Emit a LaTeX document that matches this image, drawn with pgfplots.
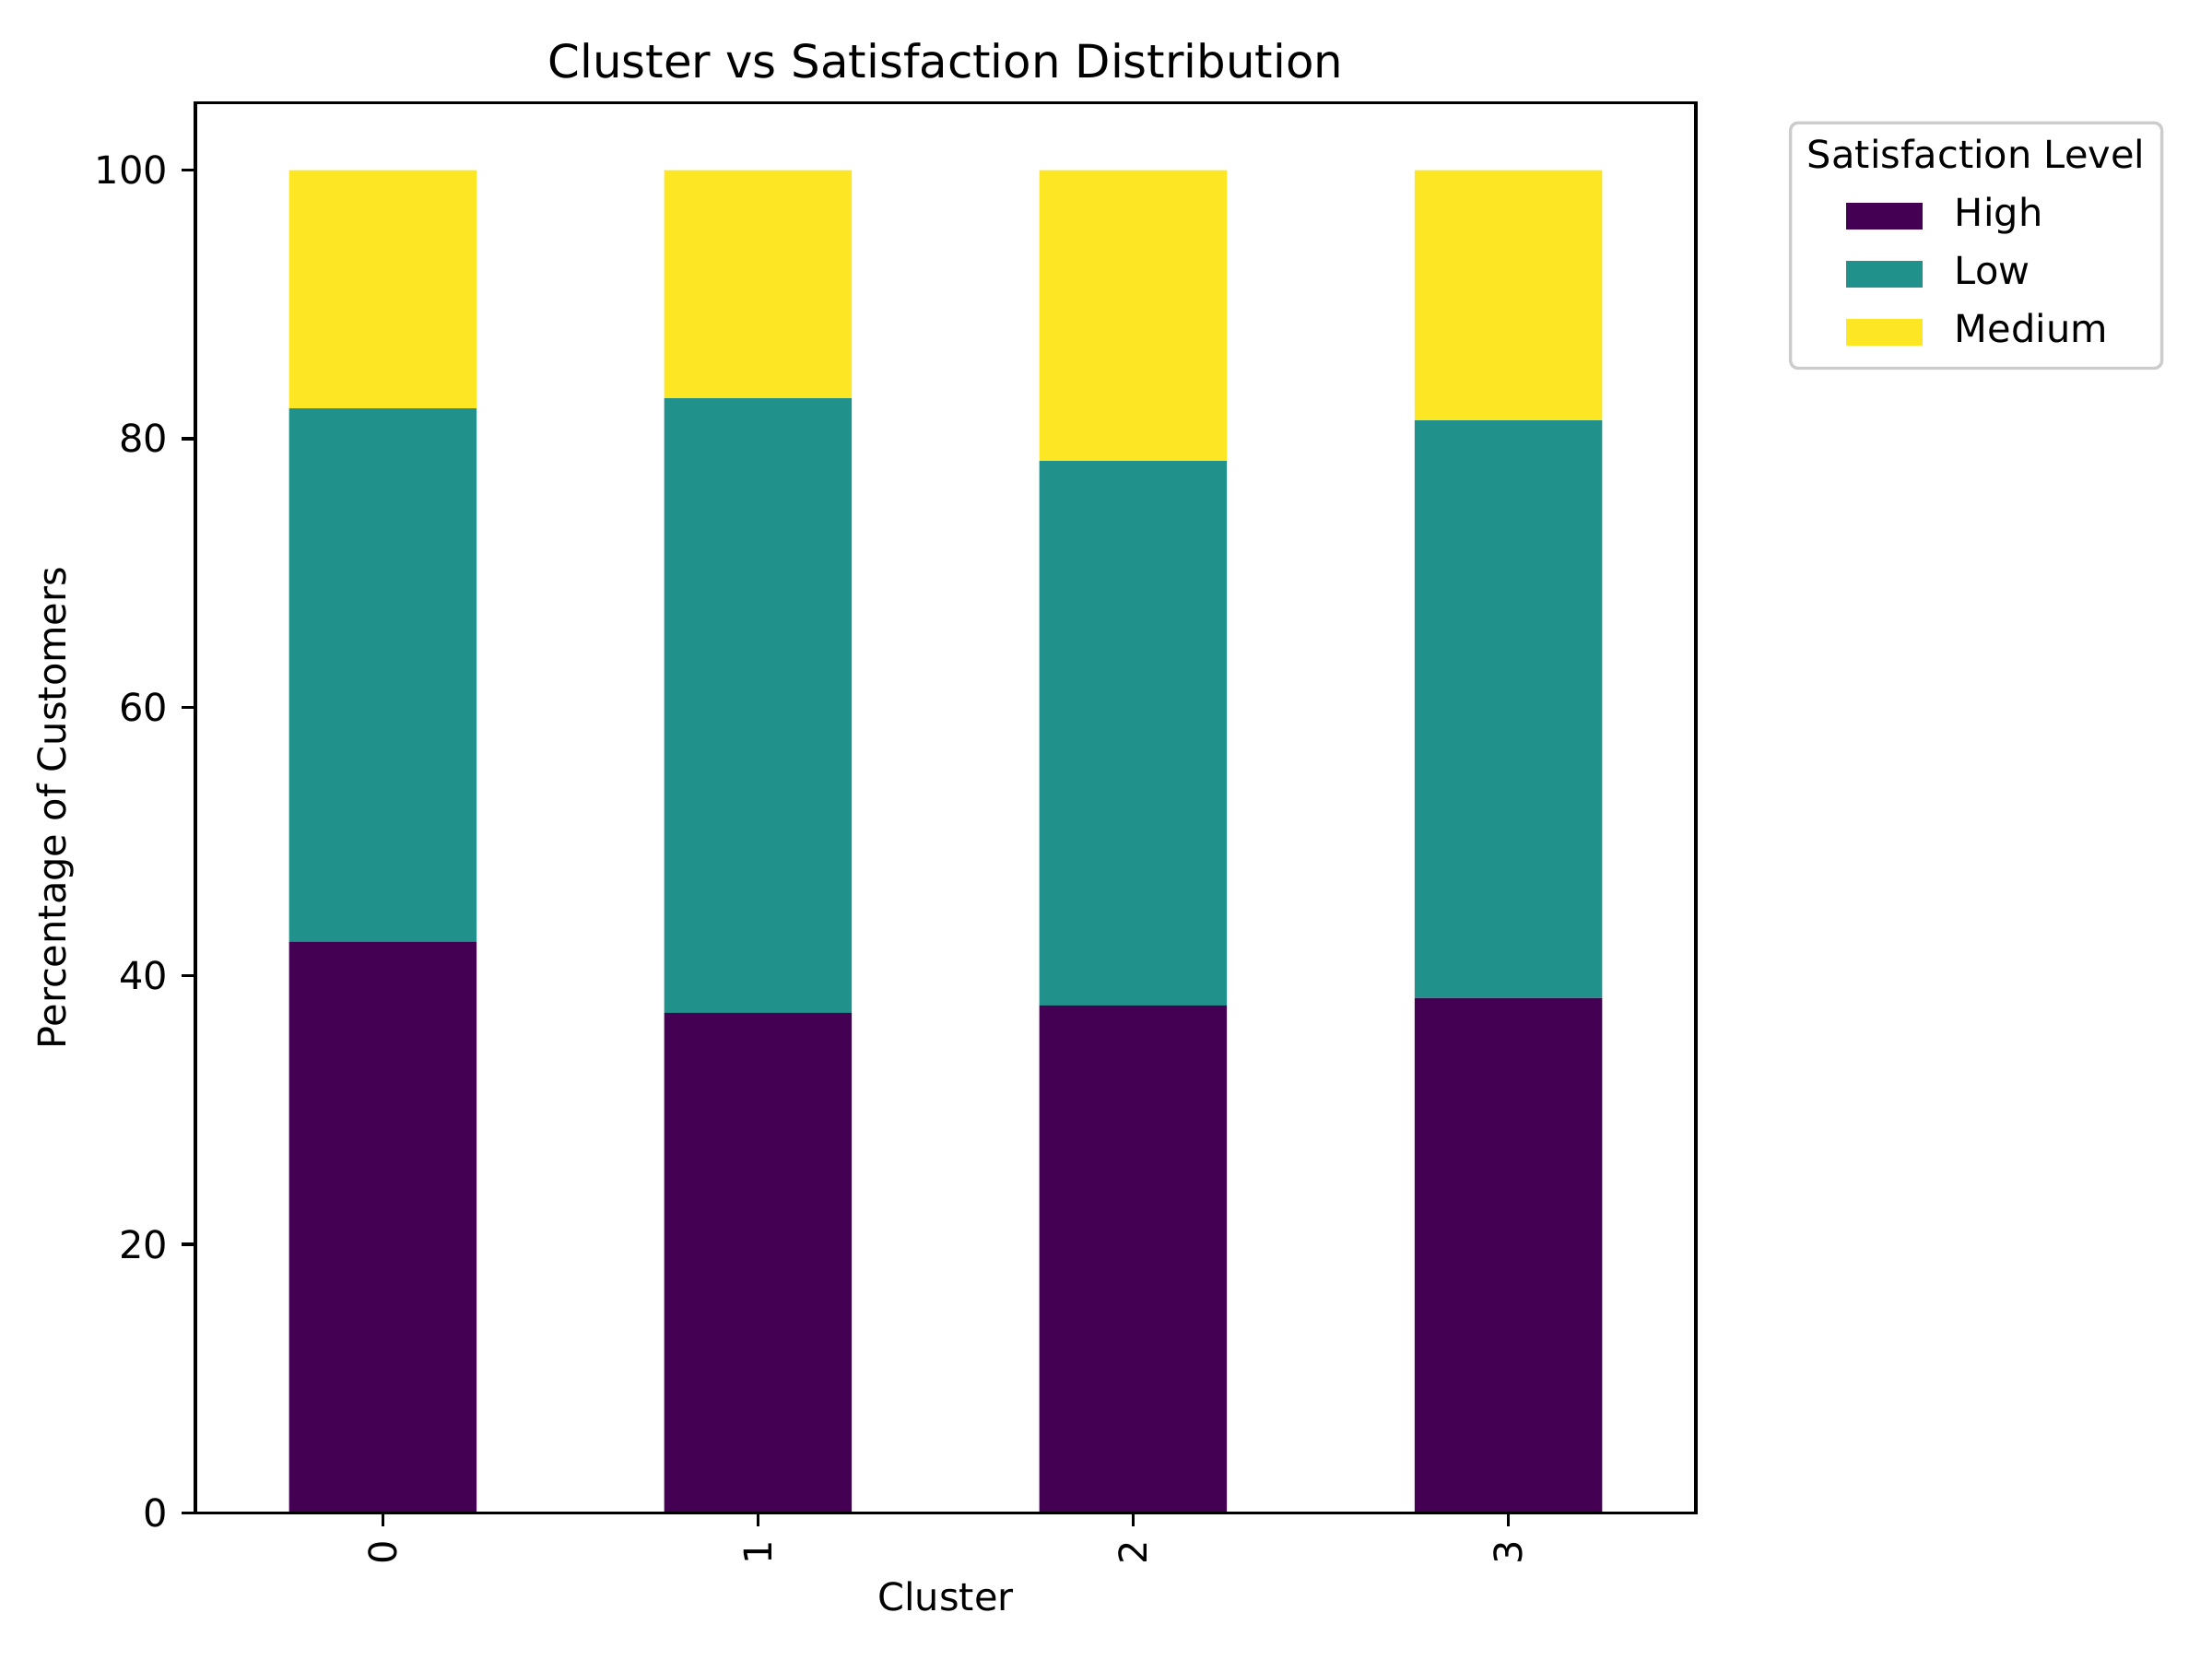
\documentclass[border=0pt]{standalone}
\usepackage{fontspec}
\setmainfont{DejaVu Sans}
\usepackage{pgfplots}
\pgfplotsset{compat=1.18}

\definecolor{vHigh}{HTML}{440154}
\definecolor{vLow}{HTML}{21918C}
\definecolor{vMed}{HTML}{FDE725}

\pgfplotsset{
  sqlegend/.style={
    legend image code/.code={\path (0bp,0bp); \fill[##1, sharp corners] (10bp,-3.5bp) rectangle (30bp,3.5bp);}
  }
}

\begin{document}
\begin{tikzpicture}
  \begin{axis}[
      scale only axis,
      width=390.72bp, height=367.10bp,
      ybar stacked, bar width=0.5,
      xmin=-0.5, xmax=3.5,
      ymin=0, ymax=105,
      xtick={0,1,2,3},
      ytick={0,20,...,100},
      tick pos=left,
      tick align=outside,
      major tick length=3.5bp,
      tick style={line width=0.8bp, black},
      axis line style={line width=0.8bp},
      axis on top,
      font=\fontsize{10}{12}\selectfont,
      /pgf/number format/assume math mode=true,
      ticklabel style={font=\fontsize{10}{12}\selectfont, inner sep=0pt},
      xticklabel style={yshift=-3.5bp, rotate=90, anchor=east},
      yticklabel style={xshift=-3.5bp, anchor=east},
      title={Cluster vs Satisfaction Distribution},
      every axis title/.style={at={(rel axis cs:0.5,1)}, anchor=base, yshift=6.5bp,
        font=\fontsize{12}{14.4}\selectfont},
      xlabel={Cluster},
      every axis x label/.style={at={(rel axis cs:0.5,0)}, yshift=-21.7bp, anchor=center},
      ylabel={Percentage of Customers},
      every axis y label/.style={at={(rel axis cs:0,0.5)}, xshift=-36.5bp, rotate=90, anchor=center},
      legend cell align=left,
      legend style={
        at={(1.0620,0.9870)}, anchor=north west,
        draw=black!20, line width=0.8bp, rounded corners=2bp,
        fill=white,
        font=\fontsize{10}{12}\selectfont,
        inner xsep=4.4bp, inner ysep=4.3bp,
        column sep=8.4bp, row sep=5.1bp,
        nodes={inner sep=0pt, text height=7.6bp, text depth=2.4bp},
      },
    ]
    \addlegendimage{empty legend}
    \addlegendentry{\hspace*{-38.4bp}Satisfaction Level}

    \addplot[fill=vHigh, draw=none, sqlegend]
      coordinates {(0,42.52) (1,37.23) (2,37.78) (3,38.35)};
    \addlegendentry{High}

    \addplot[fill=vLow, draw=none, sqlegend]
      coordinates {(0,39.73) (1,45.78) (2,40.56) (3,43.01)};
    \addlegendentry{Low}

    \addplot[fill=vMed, draw=none, sqlegend]
      coordinates {(0,17.75) (1,16.99) (2,21.66) (3,18.64)};
    \addlegendentry{Medium}
  \end{axis}
  \pgfresetboundingbox
  \path[use as bounding box] (-50.88bp,-38.09bp) rectangle (525.12bp,393.91bp);
\end{tikzpicture}
\end{document}
